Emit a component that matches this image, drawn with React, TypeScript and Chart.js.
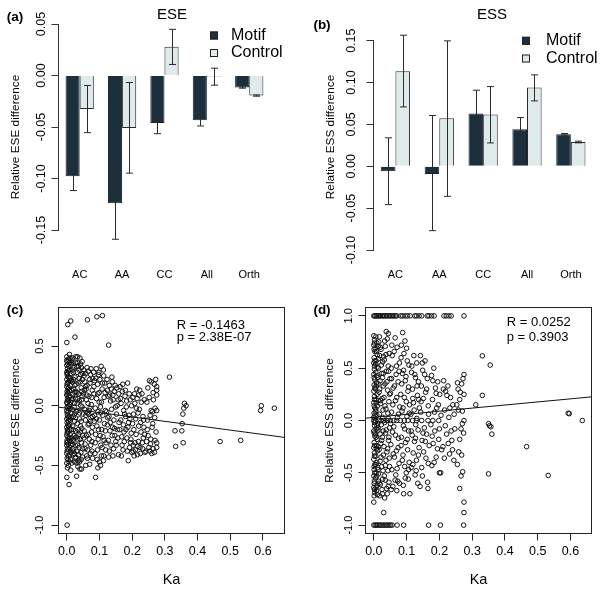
import React, { useEffect, useRef } from "react";
import { Chart, registerables } from "chart.js";

Chart.register(...registerables);

const FONT = "'Liberation Sans', Arial, Helvetica, sans-serif";

// ---------- Bar panels (a) ESE, (b) ESS ----------
const categories = ["AC", "AA", "CC", "All", "Orth"];
const seriesNames = ["Motif", "Control"];
const seriesColors = ["#1b2f3d", "#dfeaea"];

const eseMotif = [-0.0977, -0.124, -0.0461, -0.0435, -0.0117];
const eseMotifLow = [-0.1117, -0.159, -0.0565, -0.049, -0.0123];
const eseMotifHigh = [-0.0834, -0.0883, -0.035, -0.038, -0.0111];
const eseControl = [-0.0325, -0.051, 0.0279, -0.001, -0.0195];
const eseControlLow = [-0.0555, -0.0948, 0.0107, -0.0094, -0.0201];
const eseControlHigh = [-0.0097, -0.0068, 0.0448, 0.0071, -0.0189];

const essMotif = [-0.006, -0.0092, 0.063, 0.0442, 0.0382];
const essMotifLow = [-0.0458, -0.0769, 0.0347, 0.0303, 0.0372];
const essMotifHigh = [0.034, 0.0606, 0.0908, 0.0582, 0.0392];
const essControl = [0.1135, 0.0574, 0.0618, 0.094, 0.029];
const essControlLow = [0.0709, -0.0359, 0.0279, 0.0781, 0.028];
const essControlHigh = [0.1566, 0.1498, 0.0952, 0.1092, 0.03];

const eseBarTicks = [-0.15, -0.1, -0.05, 0, 0.05];
const essBarTicks = [-0.1, -0.05, 0, 0.05, 0.1, 0.15];

// ---------- Scatter panels (c) ESE, (d) ESS ----------
const kaTicks = [0, 0.1, 0.2, 0.3, 0.4, 0.5, 0.6];
const eseScatterTicks = [-1, -0.5, 0, 0.5];
const essScatterTicks = [-1, -0.5, 0, 0.5, 1];

const eseFit = { intercept: -0.0205, slope: -0.367 };
const essFit = { intercept: 0.03, slope: 0.295 };
const eseStats = ["R = -0.1463", "p = 2.38E-07"];
const essStats = ["R = 0.0252", "p = 0.3903"];

// [Ka, relative ESE difference]
const esePoints: [number, number][] = [
  [0.003, 0.68], [0.012, 0.71], [0.063, 0.72], [0.092, 0.745], [0.109, 0.755], [0.0, 0.53], [0.025, 0.575], [0.128, 0.508],
  [0.001, -1.0], [0.0, -0.6], [0.007, -0.66], [0.03, -0.59], [0.088, -0.6], [0.034, -0.51], [0.045, -0.53], [0.07, -0.49],
  [0.095, -0.52], [0.103, -0.5], [0.012, -0.54],
  [0, 0.41], [0.001, 0.37], [0, 0.34], [0.002, 0.31], [0, 0.28], [0.001, 0.26], [0, 0.22], [0.002, 0.19], [0, 0.16],
  [0.001, 0.12], [0, 0.09], [0.002, 0.06], [0, 0.03], [0.001, -0.01], [0, -0.04], [0.002, -0.08], [0, -0.11],
  [0.001, -0.14], [0, -0.18], [0.002, -0.21], [0, -0.25], [0.001, -0.29], [0, -0.33], [0.002, -0.36], [0, -0.4],
  [0.001, -0.44], [0, -0.48], [0.002, -0.52], [0, -0.31], [0.001, 0.02], [0, 0.38], [0.001, -0.23],
  [0.003, 0.35], [0.002, 0.27], [0.004, 0.24], [0.001, 0.18], [0.003, 0.14], [0.002, 0.1], [0.004, 0.05], [0.003, -0.02],
  [0.001, -0.06], [0.004, -0.1], [0.003, -0.16], [0.002, -0.2], [0.004, -0.26], [0.003, -0.3], [0.001, -0.38], [0.004, -0.45],
  [0.005, 0.39], [0.006, 0.33], [0.004, 0.29], [0.007, 0.24], [0.005, 0.2], [0.006, 0.15], [0.004, 0.11], [0.007, 0.07],
  [0.005, 0.04], [0.006, 0.0], [0.004, -0.05], [0.007, -0.09], [0.005, -0.13], [0.006, -0.17], [0.004, -0.22],
  [0.007, -0.27], [0.005, -0.32], [0.006, -0.37], [0.004, -0.42], [0.007, -0.47], [0.005, -0.5], [0.008, 0.43],
  [0.008, 0.36], [0.009, 0.21], [0.008, 0.12], [0.009, 0.01], [0.008, -0.11], [0.009, -0.2], [0.008, -0.29], [0.009, -0.41],
  [0.01, 0.4], [0.012, 0.35], [0.009, 0.3], [0.013, 0.27], [0.011, 0.23], [0.01, 0.17], [0.014, 0.13], [0.009, 0.08],
  [0.012, 0.03], [0.01, -0.02], [0.013, -0.06], [0.011, -0.12], [0.009, -0.16], [0.014, -0.2], [0.01, -0.24],
  [0.012, -0.3], [0.009, -0.35], [0.013, -0.39], [0.011, -0.45], [0.015, -0.48],
  [0.013, 0.38], [0.014, 0.21], [0.015, 0.05], [0.014, -0.1], [0.015, -0.27], [0.013, -0.33],
  [0.018, 0.4], [0.022, 0.32], [0.02, 0.28], [0.025, 0.24], [0.017, 0.2], [0.028, 0.18], [0.021, 0.14], [0.019, 0.1],
  [0.026, 0.06], [0.023, 0.02], [0.017, -0.03], [0.029, -0.05], [0.02, -0.09], [0.024, -0.13], [0.018, -0.17],
  [0.027, -0.21], [0.022, -0.25], [0.019, -0.29], [0.026, -0.33], [0.021, -0.38], [0.028, -0.43], [0.024, -0.47],
  [0.018, -0.36], [0.03, 0.33], [0.027, 0.41], [0.016, 0.36], [0.023, -0.07], [0.025, 0.11], [0.019, -0.41],
  [0.017, 0.3], [0.021, 0.22], [0.024, 0.17], [0.018, 0.06], [0.022, -0.01], [0.026, -0.1], [0.02, -0.2], [0.025, -0.27],
  [0.017, -0.32], [0.023, -0.4], [0.028, 0.12], [0.029, -0.26], [0.027, 0.36], [0.026, -0.44],
  [0.033, 0.41], [0.04, 0.4], [0.036, 0.33], [0.045, 0.32], [0.032, 0.28], [0.042, 0.26], [0.048, 0.22], [0.035, 0.19],
  [0.044, 0.15], [0.031, 0.11], [0.047, 0.08], [0.038, 0.04], [0.043, 0.0], [0.034, -0.04], [0.049, -0.07],
  [0.039, -0.11], [0.032, -0.15], [0.046, -0.19], [0.037, -0.24], [0.041, -0.28], [0.033, -0.33], [0.048, -0.36],
  [0.036, -0.41], [0.044, -0.45], [0.031, -0.48], [0.04, -0.53], [0.047, -0.01], [0.035, -0.46], [0.038, 0.23],
  [0.042, -0.17], [0.034, 0.06], [0.045, -0.31],
  [0.033, 0.36], [0.037, 0.3], [0.041, 0.2], [0.046, 0.12], [0.032, 0.02], [0.039, -0.06], [0.044, -0.13], [0.035, -0.2],
  [0.048, -0.25], [0.038, -0.35], [0.043, -0.39], [0.049, 0.27], [0.031, -0.38], [0.047, 0.37], [0.036, 0.1],
  [0.041, -0.22], [0.045, 0.05], [0.033, -0.28], [0.039, -0.47], [0.048, -0.43], [0.042, 0.35],
  [0.052, 0.3], [0.058, 0.27], [0.066, 0.29], [0.073, 0.26], [0.055, 0.2], [0.062, 0.17], [0.07, 0.22], [0.078, 0.13],
  [0.051, 0.1], [0.06, 0.05], [0.068, 0.08], [0.075, 0.01], [0.054, -0.03], [0.063, -0.06], [0.071, -0.02],
  [0.079, -0.09], [0.057, -0.12], [0.065, -0.16], [0.073, -0.13], [0.053, -0.21], [0.06, -0.25], [0.069, -0.28],
  [0.076, -0.22], [0.056, -0.32], [0.064, -0.37], [0.072, -0.4], [0.058, -0.5], [0.079, -0.44], [0.067, -0.07],
  [0.074, 0.31], [0.059, 0.14], [0.077, -0.3], [0.061, -0.42],
  [0.053, 0.25], [0.057, 0.16], [0.061, 0.09], [0.065, 0.02], [0.069, -0.04], [0.074, -0.1], [0.078, -0.18],
  [0.052, -0.27], [0.056, -0.36], [0.063, -0.44], [0.071, 0.19], [0.076, 0.07], [0.066, -0.24], [0.073, -0.33],
  [0.058, -0.08], [0.062, 0.32], [0.079, 0.23], [0.054, 0.13], [0.068, -0.15], [0.077, -0.38],
  [0.082, 0.28], [0.09, 0.31], [0.097, 0.26], [0.105, 0.33], [0.112, 0.3], [0.085, 0.21], [0.094, 0.18], [0.101, 0.22],
  [0.108, 0.14], [0.116, 0.19], [0.083, 0.1], [0.091, 0.06], [0.099, 0.11], [0.106, 0.03], [0.114, 0.07],
  [0.087, -0.02], [0.095, -0.05], [0.103, -0.01], [0.11, -0.08], [0.118, -0.04], [0.084, -0.13], [0.092, -0.17],
  [0.1, -0.12], [0.107, -0.2], [0.115, -0.15], [0.088, -0.24], [0.096, -0.28], [0.104, -0.33], [0.111, -0.26],
  [0.119, -0.37], [0.086, -0.4], [0.093, -0.45], [0.1, -0.47], [0.113, -0.42], [0.12, -0.31],
  [0.083, 0.16], [0.089, 0.23], [0.095, 0.1], [0.099, 0.03], [0.104, -0.06], [0.109, 0.19], [0.113, 0.25],
  [0.117, 0.11], [0.085, -0.08], [0.091, -0.11], [0.097, -0.2], [0.102, -0.25], [0.108, -0.35], [0.114, -0.29],
  [0.118, -0.21], [0.087, -0.31], [0.094, -0.37], [0.106, -0.42], [0.112, -0.46], [0.098, 0.28],
  [0.123, 0.22], [0.13, 0.17], [0.138, 0.24], [0.145, 0.12], [0.153, 0.15], [0.126, 0.08], [0.134, 0.04], [0.141, 0.09],
  [0.149, -0.01], [0.157, 0.05], [0.122, -0.05], [0.129, -0.09], [0.137, -0.03], [0.144, -0.12], [0.152, -0.07],
  [0.124, -0.16], [0.132, -0.21], [0.14, -0.18], [0.147, -0.25], [0.155, -0.2], [0.127, -0.29], [0.135, -0.33],
  [0.143, -0.36], [0.15, -0.3], [0.158, -0.41], [0.128, -0.43], [0.139, 0.2], [0.16, -0.14],
  [0.124, 0.13], [0.131, 0.09], [0.136, 0.14], [0.142, 0.05], [0.148, 0.17], [0.154, 0.0], [0.159, 0.1],
  [0.125, -0.1], [0.133, -0.14], [0.139, -0.25], [0.146, -0.19], [0.151, -0.33], [0.156, -0.27], [0.13, -0.38],
  [0.141, -0.42],
  [0.163, 0.16], [0.17, 0.12], [0.178, 0.08], [0.186, 0.19], [0.194, 0.05], [0.166, 0.02], [0.174, -0.04],
  [0.182, -0.01], [0.19, -0.08], [0.198, 0.0], [0.165, -0.12], [0.173, -0.16], [0.181, -0.2], [0.189, -0.14],
  [0.197, -0.23], [0.168, -0.26], [0.176, -0.3], [0.184, -0.27], [0.192, -0.35], [0.167, -0.42], [0.188, -0.46],
  [0.179, 0.13], [0.195, -0.31],
  [0.164, 0.06], [0.171, 0.18], [0.177, -0.07], [0.183, 0.04], [0.187, -0.18], [0.193, -0.11], [0.196, -0.28],
  [0.169, -0.33], [0.175, -0.22], [0.185, -0.38], [0.191, 0.1], [0.199, -0.39], [0.172, -0.37], [0.18, -0.09],
  [0.162, -0.2],
  [0.202, 0.07], [0.208, 0.02], [0.215, 0.06], [0.222, -0.03], [0.23, 0.1], [0.237, 0.05], [0.204, -0.07],
  [0.211, -0.11], [0.218, -0.06], [0.226, -0.14], [0.233, -0.09], [0.205, -0.2], [0.212, -0.24], [0.219, -0.3],
  [0.227, -0.22], [0.234, -0.27], [0.203, -0.33], [0.21, -0.37], [0.217, -0.34], [0.225, -0.4], [0.232, -0.36],
  [0.239, -0.39], [0.206, -0.42], [0.223, 0.13], [0.236, -0.18],
  [0.201, -0.15], [0.207, 0.1], [0.213, -0.02], [0.22, -0.17], [0.228, 0.03], [0.235, -0.12], [0.203, -0.38],
  [0.209, -0.31], [0.216, -0.41], [0.224, -0.35], [0.231, -0.31], [0.238, -0.24], [0.214, 0.14], [0.221, 0.09],
  [0.245, 0.03], [0.252, 0.07], [0.258, 0.2], [0.262, -0.05], [0.268, 0.18], [0.272, 0.22], [0.275, 0.16],
  [0.275, 0.13], [0.275, 0.09], [0.247, -0.12], [0.255, -0.08], [0.263, -0.15], [0.27, -0.02], [0.275, -0.04],
  [0.249, -0.25], [0.256, -0.32], [0.264, -0.36], [0.27, -0.29], [0.275, -0.31], [0.242, -0.38], [0.26, -0.4],
  [0.268, -0.39], [0.275, -0.35], [0.253, 0.21], [0.246, -0.2],
  [0.244, -0.3], [0.251, -0.35], [0.257, -0.28], [0.265, 0.05], [0.269, -0.1], [0.248, 0.15], [0.258, -0.04],
  [0.264, 0.11], [0.273, -0.22], [0.254, -0.38], [0.261, -0.18],
  [0.314, 0.24], [0.36, 0.02], [0.358, -0.02], [0.355, -0.07], [0.353, -0.15], [0.352, -0.21], [0.356, -0.31],
  [0.331, -0.21], [0.333, -0.34], [0.595, 0.0], [0.593, -0.04], [0.635, -0.02], [0.469, -0.3], [0.532, -0.29],
  [0.365, 0.0],
];

// [Ka, relative ESS difference]
const essPoints: [number, number][] = [
  [0, 1], [0.003, 1], [0.007, 1], [0.01, 1], [0.014, 1], [0.018, 1], [0.021, 1], [0.026, 1], [0.03, 1], [0.034, 1],
  [0.039, 1], [0.043, 1], [0.048, 1], [0.052, 1], [0.057, 1], [0.061, 1], [0.066, 1], [0.07, 1], [0.082, 1],
  [0.088, 1], [0.096, 1], [0.103, 1], [0.111, 1], [0.125, 1], [0.13, 1], [0.138, 1], [0.146, 1], [0.163, 1],
  [0.168, 1], [0.176, 1], [0.184, 1], [0.214, 1], [0.221, 1], [0.229, 1], [0.236, 1], [0.275, 1],
  [0, -1], [0.004, -1], [0.008, -1], [0.012, -1], [0.017, -1], [0.021, -1], [0.026, -1], [0.031, -1], [0.036, -1],
  [0.041, -1], [0.046, -1], [0.051, -1], [0.056, -1], [0.071, -1], [0.091, -1], [0.167, -1], [0.203, -1], [0.274, -1],
  [0.005, 0], [0.014, 0], [0.022, 0], [0.03, 0], [0.04, 0], [0.05, 0], [0.061, 0], [0.07, 0], [0.081, 0], [0.093, 0],
  [0.104, 0], [0.118, 0], [0.13, 0], [0.146, 0], [0.165, 0], [0.18, 0], [0.198, 0], [0.275, 0],
  [0, 0.81], [0.002, 0.77], [0, 0.72], [0.003, 0.66], [0.001, 0.6], [0, 0.55], [0.002, 0.49], [0, 0.44],
  [0.003, 0.39], [0.001, 0.34], [0, 0.28], [0.002, 0.23], [0, 0.17], [0.003, 0.12], [0.001, 0.07], [0, 0.03],
  [0.002, -0.05], [0, -0.1], [0.003, -0.15], [0.001, -0.21], [0, -0.26], [0.002, -0.31], [0, -0.37], [0.003, -0.42],
  [0.001, -0.47], [0, -0.53], [0.002, -0.58], [0, -0.64], [0.003, -0.69], [0, -0.78], [0.001, -0.6], [0, 0.0],
  [0.002, 0.74], [0.001, 0.68], [0.003, 0.57], [0.002, 0.52], [0.001, 0.41], [0.003, 0.31], [0.002, 0.2], [0.001, 0.14],
  [0.003, 0.05], [0.002, -0.02], [0.001, -0.12], [0.003, -0.24], [0.002, -0.34], [0.001, -0.44], [0.003, -0.5],
  [0.002, -0.66], [0.001, -0.72],
  [0.006, 0.8], [0.009, 0.74], [0.005, 0.69], [0.011, 0.63], [0.007, 0.57], [0.01, 0.51], [0.006, 0.46],
  [0.012, 0.41], [0.008, 0.36], [0.005, 0.3], [0.01, 0.25], [0.007, 0.2], [0.011, 0.14], [0.006, 0.09],
  [0.009, 0.05], [0.012, -0.03], [0.007, -0.08], [0.005, -0.13], [0.01, -0.18], [0.008, -0.24], [0.011, -0.29],
  [0.006, -0.34], [0.009, -0.4], [0.012, -0.45], [0.007, -0.5], [0.005, -0.55], [0.01, -0.62], [0.008, -0.67],
  [0.011, -0.71],
  [0.008, 0.66], [0.006, 0.54], [0.009, 0.43], [0.007, 0.33], [0.008, 0.17], [0.006, 0.11], [0.009, -0.05],
  [0.007, -0.16], [0.008, -0.27], [0.006, -0.42], [0.009, -0.53], [0.007, -0.64],
  [0.013, 0.71], [0.014, 0.59], [0.013, 0.35], [0.014, 0.19], [0.013, -0.07], [0.014, -0.25], [0.013, -0.47],
  [0.014, -0.58],
  [0.015, 0.75], [0.022, 0.68], [0.018, 0.62], [0.027, 0.56], [0.014, 0.5], [0.024, 0.45], [0.019, 0.38],
  [0.029, 0.33], [0.016, 0.27], [0.025, 0.21], [0.02, 0.16], [0.028, 0.1], [0.017, 0.06], [0.023, -0.04],
  [0.013, -0.09], [0.026, -0.16], [0.021, -0.22], [0.016, -0.28], [0.029, -0.33], [0.019, -0.39], [0.024, -0.44],
  [0.014, -0.51], [0.027, -0.56], [0.02, -0.61], [0.025, -0.66], [0.018, -0.72], [0.03, -0.88], [0.038, 0.85],
  [0.044, 0.83], [0.033, -0.74],
  [0.017, 0.8], [0.02, 0.7], [0.023, 0.53], [0.026, 0.41], [0.018, 0.3], [0.021, 0.19], [0.027, 0.03], [0.019, -0.13],
  [0.024, -0.19], [0.022, -0.35], [0.028, -0.48], [0.016, -0.6], [0.026, -0.7], [0.03, 0.61], [0.029, 0.45],
  [0.029, -0.1],
  [0.041, 0.78], [0.035, 0.71], [0.047, 0.64], [0.032, 0.58], [0.044, 0.52], [0.038, 0.47], [0.049, 0.4],
  [0.034, 0.35], [0.042, 0.29], [0.031, 0.22], [0.046, 0.18], [0.037, 0.11], [0.043, 0.07], [0.033, -0.02],
  [0.048, -0.07], [0.036, -0.12], [0.045, -0.19], [0.031, -0.25], [0.04, -0.3], [0.047, -0.36], [0.035, -0.43],
  [0.043, -0.48], [0.032, -0.53], [0.046, -0.59], [0.039, -0.65],
  [0.033, 0.76], [0.037, 0.63], [0.045, 0.47], [0.04, 0.37], [0.048, 0.25], [0.034, 0.14], [0.044, 0.02],
  [0.038, -0.09], [0.046, -0.16], [0.042, -0.27], [0.037, -0.38], [0.048, -0.44], [0.035, -0.57], [0.044, -0.63],
  [0.041, -0.7],
  [0.065, 0.79], [0.071, 0.7], [0.056, 0.62], [0.078, 0.55], [0.053, 0.5], [0.068, 0.44], [0.074, 0.37],
  [0.059, 0.31], [0.051, 0.26], [0.066, 0.19], [0.079, 0.13], [0.054, 0.08], [0.072, 0.03], [0.061, -0.06],
  [0.057, -0.11], [0.075, -0.17], [0.052, -0.23], [0.069, -0.29], [0.063, -0.35], [0.077, -0.41], [0.055, -0.47],
  [0.067, -0.52], [0.073, -0.58], [0.058, -0.63], [0.07, -0.67],
  [0.055, 0.72], [0.062, 0.66], [0.069, 0.52], [0.077, 0.47], [0.054, 0.4], [0.063, 0.33], [0.07, 0.22],
  [0.058, 0.15], [0.075, 0.06], [0.051, -0.03], [0.066, -0.14], [0.074, -0.26], [0.059, -0.32], [0.071, -0.46],
  [0.065, -0.57], [0.078, -0.6], [0.053, -0.66],
  [0.088, 0.84], [0.095, 0.76], [0.1, 0.69], [0.083, 0.6], [0.107, 0.53], [0.091, 0.48], [0.098, 0.42],
  [0.085, 0.35], [0.104, 0.28], [0.093, 0.22], [0.109, 0.15], [0.086, 0.09], [0.101, 0.04], [0.09, -0.05],
  [0.106, -0.1], [0.084, -0.16], [0.097, -0.21], [0.103, -0.28], [0.089, -0.33], [0.108, -0.4], [0.094, -0.44],
  [0.099, -0.5], [0.105, -0.56], [0.091, -0.7], [0.11, -0.7],
  [0.084, 0.72], [0.092, 0.64], [0.102, 0.57], [0.087, 0.45], [0.096, 0.38], [0.106, 0.32], [0.082, 0.25],
  [0.099, 0.18], [0.089, 0.12], [0.108, 0.07], [0.094, -0.08], [0.083, -0.24], [0.102, -0.18], [0.087, -0.38],
  [0.106, -0.47], [0.096, -0.55], [0.09, -0.62],
  [0.122, 0.62], [0.131, 0.55], [0.115, 0.46], [0.127, 0.41], [0.136, 0.37], [0.118, 0.3], [0.133, 0.24],
  [0.121, 0.17], [0.139, 0.12], [0.113, 0.06], [0.128, -0.04], [0.135, -0.09], [0.117, -0.14], [0.124, -0.2],
  [0.138, -0.26], [0.12, -0.31], [0.13, -0.38], [0.114, -0.45], [0.126, -0.52], [0.134, -0.6],
  [0.116, 0.52], [0.125, 0.44], [0.132, 0.33], [0.119, 0.21], [0.137, 0.2], [0.123, 0.1], [0.131, 0.02],
  [0.114, -0.1], [0.127, -0.17], [0.136, -0.33], [0.119, -0.42], [0.129, -0.48],
  [0.142, 0.62], [0.156, 0.57], [0.149, 0.48], [0.163, 0.4], [0.145, 0.33], [0.158, 0.27], [0.151, 0.21],
  [0.166, 0.14], [0.143, 0.08], [0.154, -0.07], [0.161, -0.13], [0.147, -0.19], [0.169, -0.24], [0.152, -0.3],
  [0.159, -0.36], [0.146, -0.45], [0.164, -0.59], [0.165, -0.65], [0.141, -0.63],
  [0.148, 0.55], [0.155, 0.44], [0.161, 0.3], [0.144, 0.18], [0.167, 0.06], [0.15, -0.12], [0.157, -0.2],
  [0.166, -0.41], [0.148, -0.53],
  [0.183, 0.5], [0.176, 0.43], [0.195, 0.37], [0.188, 0.31], [0.201, 0.25], [0.179, 0.2], [0.192, 0.12],
  [0.205, 0.05], [0.174, -0.04], [0.186, -0.1], [0.198, -0.18], [0.181, -0.22], [0.207, -0.28], [0.19, -0.35],
  [0.177, -0.43], [0.2, -0.5], [0.204, -0.5],
  [0.18, 0.38], [0.19, 0.26], [0.197, 0.15], [0.185, 0.08], [0.2, -0.08], [0.178, -0.15], [0.194, -0.27],
  [0.184, -0.4],
  [0.213, 0.38], [0.226, 0.33], [0.219, 0.28], [0.234, 0.22], [0.241, 0.15], [0.216, 0.1], [0.229, 0.03],
  [0.247, -0.08], [0.222, -0.13], [0.238, -0.19], [0.211, -0.25], [0.231, -0.32], [0.244, -0.38],
  [0.212, 0.3], [0.223, 0.24], [0.232, 0.12], [0.245, 0.06], [0.218, -0.05], [0.236, -0.1], [0.227, -0.22],
  [0.215, -0.36], [0.24, -0.28],
  [0.275, 0.44], [0.272, 0.4], [0.268, 0.35], [0.257, 0.3], [0.275, 0.25], [0.262, 0.2], [0.253, 0.15],
  [0.27, 0.09], [0.266, -0.08], [0.274, -0.12], [0.259, -0.3], [0.268, -0.33], [0.271, -0.49], [0.266, -0.53],
  [0.262, -0.65], [0.275, -0.78], [0.275, -0.88],
  [0.255, 0.36], [0.264, 0.27], [0.258, 0.1], [0.27, -0.03], [0.262, -0.18], [0.255, -0.42],
  [0.311, 0.15], [0.331, 0.24], [0.331, 0.618], [0.355, 0.53], [0.35, -0.03], [0.353, -0.05], [0.357, -0.06],
  [0.36, -0.13], [0.35, -0.51], [0.466, -0.25], [0.532, -0.525], [0.593, 0.07], [0.596, 0.065], [0.636, 0.0],
];

type TextItem = { text: string; x: number; y: number; size: number; bold?: boolean; align?: CanvasTextAlign; rotate?: number };

function textPlugin(items: TextItem[]) {
  return {
    id: "panelText",
    afterDraw(chart: any) {
      const ctx = chart.ctx as CanvasRenderingContext2D;
      for (const t of items) {
        ctx.save();
        ctx.font = `${t.bold ? "bold " : ""}${t.size}px ${FONT}`;
        ctx.fillStyle = "#000";
        ctx.textAlign = t.align || "center";
        ctx.textBaseline = "middle";
        ctx.translate(t.x, t.y);
        if (t.rotate) ctx.rotate(t.rotate);
        ctx.fillText(t.text, 0, 0);
        ctx.restore();
      }
    },
  };
}

function errorBarPlugin(lows: number[][], highs: number[][]) {
  return {
    id: "errorBars",
    afterDatasetsDraw(chart: any) {
      const ctx = chart.ctx as CanvasRenderingContext2D;
      const ys = chart.scales.y;
      chart.data.datasets.forEach((_ds: any, d: number) => {
        const meta = chart.getDatasetMeta(d);
        meta.data.forEach((bar: any, i: number) => {
          const x = Math.round(bar.x) + 0.5;
          const y1 = ys.getPixelForValue(lows[d][i]);
          const y2 = ys.getPixelForValue(highs[d][i]);
          ctx.save();
          ctx.strokeStyle = "#2b2b2b";
          ctx.lineWidth = 1;
          ctx.beginPath();
          ctx.moveTo(x, y1);
          ctx.lineTo(x, y2);
          ctx.moveTo(x - 3.5, y1);
          ctx.lineTo(x + 3.5, y1);
          ctx.moveTo(x - 3.5, y2);
          ctx.lineTo(x + 3.5, y2);
          ctx.stroke();
          ctx.restore();
        });
      });
    },
  };
}

function legendPlugin(boxX: number, y0: number, gap: number, textX: number, size: number) {
  return {
    id: "boxLegend",
    afterDraw(chart: any) {
      const ctx = chart.ctx as CanvasRenderingContext2D;
      chart.data.datasets.forEach((ds: any, i: number) => {
        const cy = y0 + i * gap;
        ctx.save();
        ctx.fillStyle = ds.backgroundColor;
        ctx.fillRect(boxX, cy - 4, 8, 8);
        ctx.strokeStyle = "#222";
        ctx.lineWidth = 1;
        ctx.strokeRect(boxX + 0.5, cy - 3.5, 7, 7);
        ctx.font = `${size}px ${FONT}`;
        ctx.fillStyle = "#000";
        ctx.textAlign = "left";
        ctx.textBaseline = "middle";
        ctx.fillText(ds.label, textX, cy);
        ctx.restore();
      });
    },
  };
}

const boxPlugin = {
  id: "plotBox",
  afterDatasetsDraw(chart: any) {
    const { left, top, right, bottom } = chart.chartArea;
    const ctx = chart.ctx as CanvasRenderingContext2D;
    ctx.save();
    ctx.strokeStyle = "#222";
    ctx.lineWidth = 1;
    ctx.strokeRect(left, top, right - left, bottom - top);
    ctx.restore();
  },
};

type BarPanel = {
  motif: number[]; control: number[]; lows: number[][]; highs: number[][];
  ticks: number[]; yWidth: number; padRight: number; padTop: number; xHeight: number;
  xPad: number; yPad: number; texts: TextItem[]; legend: [number, number, number, number];
};

function barConfig(p: BarPanel): any {
  return {
    type: "bar",
    data: {
      labels: categories,
      datasets: [
        { label: seriesNames[0], data: p.motif, backgroundColor: seriesColors[0], borderColor: "#15222c", borderWidth: 1, categoryPercentage: 2 / 3, barPercentage: 1, clip: false },
        { label: seriesNames[1], data: p.control, backgroundColor: seriesColors[1], borderColor: "#2a2a2a", borderWidth: 1, categoryPercentage: 2 / 3, barPercentage: 1, clip: false },
      ],
    },
    options: {
      responsive: false,
      animation: false,
      events: [],
      layout: { autoPadding: false, padding: { left: 0, right: p.padRight, top: p.padTop, bottom: 0 } },
      plugins: { legend: { display: false }, tooltip: { enabled: false }, title: { display: false } },
      scales: {
        x: {
          type: "category",
          grid: { display: false, drawTicks: false },
          border: { display: false },
          ticks: { font: { family: FONT, size: 11 }, color: "#000", padding: p.xPad, maxRotation: 0, autoSkip: false },
          afterFit: (s: any) => { s.height = p.xHeight; },
        },
        y: {
          type: "linear",
          min: p.ticks[0],
          max: p.ticks[p.ticks.length - 1],
          afterBuildTicks: (s: any) => { s.ticks = p.ticks.map((v) => ({ value: v })); },
          grid: { display: true, drawOnChartArea: false, drawTicks: true, tickLength: 7, color: "#333", lineWidth: 1 },
          border: { display: true, color: "#333", width: 1 },
          ticks: {
            font: { family: FONT, size: 12.5 }, color: "#000", padding: p.yPad,
            minRotation: 90, maxRotation: 90, crossAlign: "center",
            callback: (v: any) => Number(v).toFixed(2),
          },
          afterFit: (s: any) => { s.width = p.yWidth; },
        },
      },
    },
    plugins: [errorBarPlugin(p.lows, p.highs), legendPlugin(...p.legend, 16), textPlugin(p.texts)],
  };
}

type ScatterPanel = {
  points: [number, number][]; fit: { intercept: number; slope: number };
  xMin: number; xMax: number; yMin: number; yMax: number; yTicks: number[];
  yWidth: number; padRight: number; padTop: number; xHeight: number;
  yPad: number; yTitle: string; yTitlePad: number; texts: TextItem[];
};

function scatterConfig(p: ScatterPanel): any {
  const fitLine = [p.xMin, p.xMax].map((x) => ({ x, y: p.fit.intercept + p.fit.slope * x }));
  return {
    type: "scatter",
    data: {
      datasets: [
        { type: "line", data: fitLine, borderColor: "#111", borderWidth: 1, pointRadius: 0, fill: false, tension: 0 },
        {
          type: "scatter",
          data: p.points.map(([x, y]) => ({ x, y })),
          pointRadius: 2.3,
          pointBorderWidth: 1,
          pointBackgroundColor: "rgba(0,0,0,0)",
          pointBorderColor: "#111",
          clip: false,
        },
      ],
    },
    options: {
      responsive: false,
      animation: false,
      events: [],
      layout: { autoPadding: false, padding: { left: 0, right: p.padRight, top: p.padTop, bottom: 0 } },
      plugins: { legend: { display: false }, tooltip: { enabled: false } },
      scales: {
        x: {
          type: "linear",
          min: p.xMin,
          max: p.xMax,
          afterBuildTicks: (s: any) => { s.ticks = kaTicks.map((v) => ({ value: v })); },
          grid: { display: true, drawOnChartArea: false, drawTicks: true, tickLength: 7, color: "#222" },
          border: { display: true, color: "#222" },
          ticks: { font: { family: FONT, size: 12.5 }, color: "#000", padding: 3.7, maxRotation: 0, callback: (v: any) => Number(v).toFixed(1) },
          title: { display: true, text: "Ka", font: { family: FONT, size: 14.5 }, color: "#000", padding: { top: 0, bottom: 0.4 } },
          afterFit: (s: any) => { s.height = p.xHeight; },
        },
        y: {
          type: "linear",
          min: p.yMin,
          max: p.yMax,
          afterBuildTicks: (s: any) => { s.ticks = p.yTicks.map((v) => ({ value: v })); },
          grid: { display: true, drawOnChartArea: false, drawTicks: true, tickLength: 7, color: "#222" },
          border: { display: true, color: "#222" },
          ticks: {
            font: { family: FONT, size: 11 }, color: "#000", padding: p.yPad,
            minRotation: 90, maxRotation: 90, crossAlign: "center",
            callback: (v: any) => Number(v).toFixed(1),
          },
          title: { display: true, text: p.yTitle, font: { family: FONT, size: 11.8 }, color: "#000", padding: { top: p.yTitlePad, bottom: 0 } },
          afterFit: (s: any) => { s.width = p.yWidth; },
        },
      },
    },
    plugins: [boxPlugin, textPlugin(p.texts)],
  };
}

export default function App() {
  const aRef = useRef<HTMLCanvasElement>(null);
  const bRef = useRef<HTMLCanvasElement>(null);
  const cRef = useRef<HTMLCanvasElement>(null);
  const dRef = useRef<HTMLCanvasElement>(null);

  useEffect(() => {
    const charts: Chart[] = [];
    charts.push(new Chart(aRef.current!, barConfig({
      motif: eseMotif, control: eseControl,
      lows: [eseMotifLow, eseControlLow], highs: [eseMotifHigh, eseControlHigh],
      ticks: eseBarTicks, yWidth: 58.5, padRight: 16.5, padTop: 24, xHeight: 65,
      xPad: 38.4, yPad: -4.4,
      texts: [
        { text: "(a)", x: 15, y: 17, size: 13.5, bold: true },
        { text: "ESE", x: 172, y: 15, size: 15 },
        { text: "Relative ESE difference", x: 16, y: 137, size: 11.8, rotate: -Math.PI / 2 },
      ],
      legend: [210, 35.5, 17.5, 231],
    })));
    charts.push(new Chart(bRef.current!, barConfig({
      motif: essMotif, control: essControl,
      lows: [essMotifLow, essControlLow], highs: [essMotifHigh, essControlHigh],
      ticks: essBarTicks, yWidth: 73.5, padRight: 0.5, padTop: 40.7, xHeight: 45,
      xPad: 18.4, yPad: 0.6,
      texts: [
        { text: "(b)", x: 22, y: 25, size: 13.5, bold: true },
        { text: "ESS", x: 192, y: 15, size: 15 },
        { text: "Relative ESS difference", x: 31, y: 137, size: 11.8, rotate: -Math.PI / 2 },
      ],
      legend: [222, 40.8, 17.7, 246],
    })));
    charts.push(new Chart(cRef.current!, scatterConfig({
      points: esePoints, fit: eseFit,
      xMin: -0.0254, xMax: 0.666, yMin: -1.07, yMax: 0.823, yTicks: eseScatterTicks,
      yWidth: 58.5, padRight: 15.5, padTop: 12.5, xHeight: 55.5, yPad: 2.0,
      yTitle: "Relative ESE difference", yTitlePad: 8.9,
      texts: [
        { text: "(c)", x: 15, y: 15.5, size: 13.5, bold: true },
        { text: eseStats[0], x: 176.7, y: 30, size: 13, align: "left" },
        { text: eseStats[1], x: 176.7, y: 42.7, size: 13, align: "left" },
      ],
    })));
    charts.push(new Chart(dRef.current!, scatterConfig({
      points: essPoints, fit: essFit,
      xMin: -0.0254, xMax: 0.664, yMin: -1.08, yMax: 1.08, yTicks: essScatterTicks,
      yWidth: 65.5, padRight: 8.5, padTop: 12.5, xHeight: 55.5, yPad: 0.4,
      yTitle: "Relative ESS difference", yTitlePad: 22.9,
      texts: [
        { text: "(d)", x: 22, y: 15.5, size: 13.5, bold: true },
        { text: essStats[0], x: 206.7, y: 27.3, size: 13, align: "left" },
        { text: essStats[1], x: 206.7, y: 42.7, size: 13, align: "left" },
      ],
    })));
    return () => charts.forEach((c) => c.destroy());
  }, []);

  const cs = (left: number, top: number): React.CSSProperties => ({ position: "absolute", left, top });
  return (
    <div style={{ position: "absolute", left: 0, top: 0, width: 600, height: 589, background: "#fff" }}>
      <canvas ref={aRef} width={300} height={295} style={cs(0, 0)} />
      <canvas ref={bRef} width={300} height={295} style={cs(300, 0)} />
      <canvas ref={cRef} width={300} height={294} style={cs(0, 295)} />
      <canvas ref={dRef} width={300} height={294} style={cs(300, 295)} />
    </div>
  );
}
